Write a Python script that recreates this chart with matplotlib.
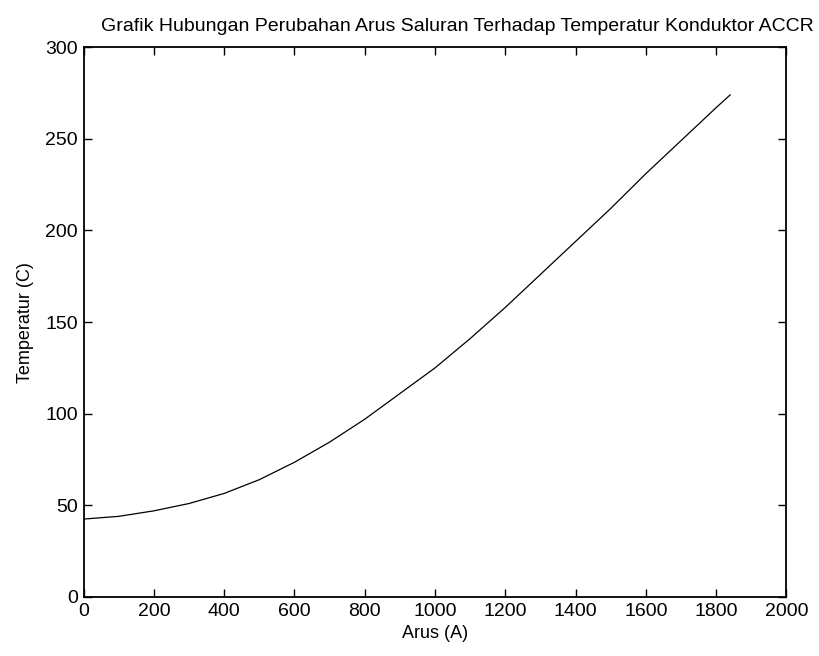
import matplotlib
matplotlib.use("Agg")
import matplotlib.pyplot as plt
from matplotlib import font_manager

arus = [0, 100, 200, 300, 400, 500, 600, 700, 800, 900, 1000, 1100, 1200,
        1300, 1400, 1500, 1600, 1700, 1800, 1840]
temperatur = [42.5, 44, 47, 51, 56.5, 64, 73.5, 84.5, 97, 111, 125, 141, 158,
              176, 194, 212, 231, 249, 267, 274]
xticks = [0, 200, 400, 600, 800, 1000, 1200, 1400, 1600, 1800, 2000]
yticks = [0, 50, 100, 150, 200, 250, 300]

names = {f.name for f in font_manager.fontManager.ttflist}
fam = "Liberation Sans Narrow" if "Liberation Sans Narrow" in names else "Liberation Sans"
plt.rcParams['font.family'] = [fam, 'DejaVu Sans']

fig = plt.figure(figsize=(8.2, 6.56), dpi=100)
ax = fig.add_axes([0.102, 0.09, 0.857, 0.838])
ax.plot(arus, temperatur, color='black', linewidth=0.9)
ax.set_xlim(0, 2000)
ax.set_ylim(0, 300)
ax.set_xticks(xticks)
ax.set_yticks(yticks)
ax.tick_params(direction='in', top=True, right=True, length=6, width=1,
               labelsize=14, pad=4)
for s in ax.spines.values():
    s.set_linewidth(1.3)
ax.set_xlabel('Arus (A)', fontsize=13, labelpad=4)
ax.set_ylabel('Temperatur (C)', fontsize=13, labelpad=8)
fig.text(0.558, 0.952, 'Grafik Hubungan Perubahan Arus Saluran Terhadap Temperatur Konduktor ACCR',
         ha='center', va='baseline', fontsize=14)
fig.savefig('out.png', dpi=100)
